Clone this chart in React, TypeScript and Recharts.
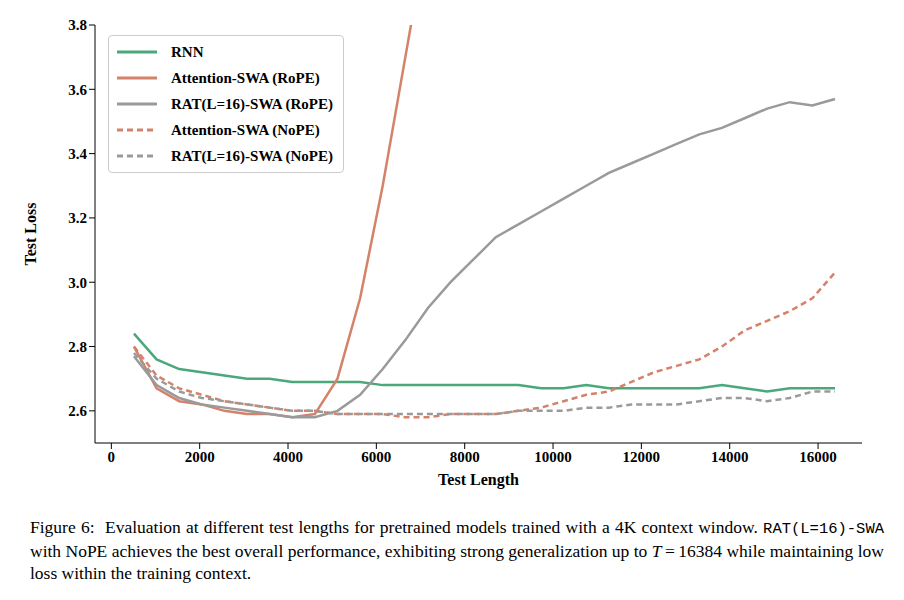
import React from 'react'
import { LineChart, Line, XAxis, YAxis } from 'recharts'

const lengths = Array.from({ length: 32 }, (_, i) => 512 * (i + 1))
const rnn = [2.84, 2.76, 2.73, 2.72, 2.71, 2.70, 2.70, 2.69, 2.69, 2.69, 2.69, 2.68, 2.68, 2.68, 2.68, 2.68, 2.68, 2.68, 2.67, 2.67, 2.68, 2.67, 2.67, 2.67, 2.67, 2.67, 2.68, 2.67, 2.66, 2.67, 2.67, 2.67]
const attnRope = [2.80, 2.67, 2.63, 2.62, 2.60, 2.59, 2.59, 2.58, 2.59, 2.70, 2.95, 3.30, 3.70, 4.10, 4.5, 4.9, 5.3, 5.7, 6.1, 6.5, 6.9, 7.3, 7.7, 8.1, 8.5, 8.9, 9.3, 9.7, 10.1, 10.5, 10.9, 11.3]
const ratRope = [2.77, 2.68, 2.64, 2.62, 2.61, 2.60, 2.59, 2.58, 2.58, 2.60, 2.65, 2.73, 2.82, 2.92, 3.00, 3.07, 3.14, 3.18, 3.22, 3.26, 3.30, 3.34, 3.37, 3.40, 3.43, 3.46, 3.48, 3.51, 3.54, 3.56, 3.55, 3.57]
const attnNope = [2.80, 2.71, 2.67, 2.65, 2.63, 2.62, 2.61, 2.60, 2.60, 2.59, 2.59, 2.59, 2.58, 2.58, 2.59, 2.59, 2.59, 2.60, 2.61, 2.63, 2.65, 2.66, 2.69, 2.72, 2.74, 2.76, 2.80, 2.85, 2.88, 2.91, 2.95, 3.03]
const ratNope = [2.78, 2.70, 2.66, 2.64, 2.63, 2.62, 2.61, 2.60, 2.60, 2.59, 2.59, 2.59, 2.59, 2.59, 2.59, 2.59, 2.59, 2.60, 2.60, 2.60, 2.61, 2.61, 2.62, 2.62, 2.62, 2.63, 2.64, 2.64, 2.63, 2.64, 2.66, 2.66]
const xTicks = [0, 2000, 4000, 6000, 8000, 10000, 12000, 14000, 16000]
const yTicks = [2.6, 2.8, 3.0, 3.2, 3.4, 3.6, 3.8]

const data = lengths.map((x, i) => ({
  x, rnn: rnn[i], attnRope: attnRope[i], ratRope: ratRope[i], attnNope: attnNope[i], ratNope: ratNope[i],
}))

const series = [
  { key: 'rnn', name: 'RNN', color: '#4aa87a', dash: undefined },
  { key: 'attnRope', name: 'Attention-SWA (RoPE)', color: '#d4826a', dash: undefined },
  { key: 'ratRope', name: 'RAT(L=16)-SWA (RoPE)', color: '#9a9a9a', dash: undefined },
  { key: 'attnNope', name: 'Attention-SWA (NoPE)', color: '#d4826a', dash: '6 4' },
  { key: 'ratNope', name: 'RAT(L=16)-SWA (NoPE)', color: '#9a9a9a', dash: '6 4' },
]

const font = '"Liberation Serif", "DejaVu Serif", serif'
const tick = { fill: '#000', fontSize: 15, fontWeight: 'bold' as const, fontFamily: font }

function LegendBox() {
  return (
    <div style={{ position: 'absolute', left: 100, top: 27, border: '1px solid #ccc', borderRadius: 4,
      background: 'white', padding: '3px 10px 3px 6px', fontFamily: font, fontWeight: 'bold', fontSize: 15 }}>
      {series.map(s => (
        <div key={s.key} style={{ display: 'flex', alignItems: 'center', height: 26 }}>
          <svg width={44} height={10} style={{ marginRight: 12 }}>
            <line x1={2} y1={5} x2={42} y2={5} stroke={s.color} strokeWidth={3} strokeDasharray={s.dash} />
          </svg>
          {s.name}
        </div>
      ))}
    </div>
  )
}

const mono = { fontFamily: '"Liberation Mono", "DejaVu Sans Mono", monospace', fontSize: 15.5 }

export default function App() {
  return (
    <div style={{ width: 896, fontFamily: font, position: 'relative' }}>
      <LineChart width={896} height={500} data={data} margin={{ top: 17, right: 42, left: 30, bottom: 35 }}>
        <XAxis dataKey="x" type="number" domain={[-370, 16995]} ticks={xTicks} tick={tick}
          stroke="#000" tickLine={{ stroke: '#000' }} height={30}
          label={{ value: 'Test Length', position: 'insideBottom', offset: -12, style: { ...tick, fontSize: 16 } }} />
        <XAxis xAxisId="top" orientation="top" dataKey="x" type="number" domain={[-370, 16995]}
          tick={false} tickLine={false} height={0} stroke="#000" />
        <YAxis type="number" domain={[2.5, 3.8]} ticks={yTicks} allowDataOverflow width={57} tick={tick}
          tickFormatter={(v: number) => v.toFixed(1)} stroke="#000"
          label={{ value: 'Test Loss', angle: -90, position: 'insideLeft', offset: -8, style: { ...tick, fontSize: 16, textAnchor: 'middle' } }} />
        <YAxis yAxisId="right" orientation="right" domain={[2.5, 3.8]} tick={false} tickLine={false} width={0} stroke="#000" />
        {series.map(s => (
          <Line key={s.key} dataKey={s.key} name={s.name} stroke={s.color} strokeWidth={2.5}
            strokeDasharray={s.dash} dot={false} isAnimationActive={false} />
        ))}
      </LineChart>
      <LegendBox />
      <div style={{ fontSize: 17.5, lineHeight: '22px', margin: '8px 20px 0 22px', textAlign: 'justify' }}>
        Figure 6:&nbsp; Evaluation at different test lengths for pretrained models trained with a 4K context window.{' '}
        <span style={mono}>RAT(L=16)-SWA</span> with NoPE achieves the best overall performance, exhibiting strong generalization up to{' '}
        <i>T</i>&thinsp;=&thinsp;16384 while maintaining low loss within the training context.
      </div>
    </div>
  )
}
